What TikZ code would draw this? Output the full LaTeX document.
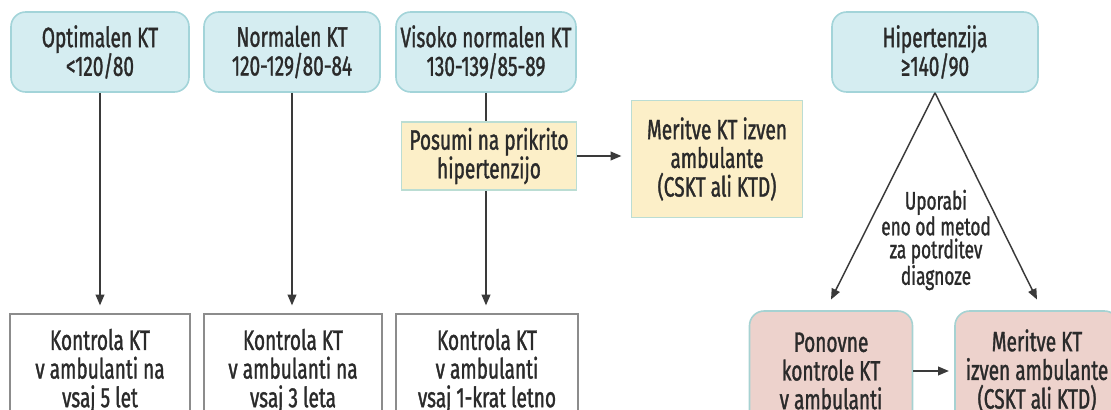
\documentclass[tikz,border=0pt]{standalone}
\usepackage{fontspec}
\setmainfont[FakeStretch=0.68, FakeBold=1.2]{Fira Sans}
\usetikzlibrary{arrows.meta}
\definecolor{inkc}{HTML}{2A2A2A}
\definecolor{linec}{HTML}{3A3A3A}
\definecolor{bluefill}{HTML}{D5EDF1}
\definecolor{blueedge}{HTML}{A3D4D9}
\definecolor{creamfill}{HTML}{FCEFC8}
\definecolor{creamedge}{HTML}{BBDDD3}
\definecolor{pinkfill}{HTML}{EDD2CC}
\definecolor{pinkedge}{HTML}{A6D2D2}
\definecolor{greyedge}{HTML}{8C8C8C}
\begin{document}
\begin{tikzpicture}[x=0.75pt, y=-0.75pt,
  font=\fontsize{21}{21.5}\selectfont, text=inkc,
  box/.style={align=center, inner sep=0pt, line width=1.2pt},
  sz/.style 2 args={minimum width=#1*0.75pt, minimum height=#2*0.75pt},
  category/.style={box, rounded corners=11pt, fill=bluefill, draw=blueedge},
  suspect/.style={box, fill=creamfill, draw=creamedge},
  confirm/.style={box, rounded corners=11pt, fill=pinkfill, draw=pinkedge},
  advice/.style={box, fill=white, draw=greyedge, line width=0.9pt},
  link/.style={draw=linec, line width=1.1pt},
  arr/.style={link, -{Triangle[length=8pt,width=6.5pt]}}]
\useasboundingbox (0,0) rectangle (1111,410);
\clip (0,0) rectangle (1111,410);

% blood-pressure categories
\node[category, sz={178}{80}] (opt) at (100,52) {Optimalen KT\\<120/80};
\node[category, sz={176}{80}] (nor) at (292,52) {Normalen KT\\120-129/80-84};
\node[category, sz={180}{80}] (vis) at (486,52) {Visoko normalen KT\\130-139/85-89};
\node[category, sz={206}{80}] (hyp) at (935,52) {Hipertenzija\\≥140/90};

% masked hypertension branch
\node[suspect, sz={175}{68}] (sus) at (489,156) {Posumi na prikrito\\hipertenzijo};
\node[suspect, sz={171}{117}] (out) at (717,159) {Meritve KT izven\\ambulante\\(CSKT ali KTD)};

% follow-up advice
\node[advice, sz={180}{114}] (c5) at (100,371) {Kontrola KT\\v ambulanti na\\vsaj 5 let};
\node[advice, sz={178}{114}] (c3) at (293,371) {Kontrola KT\\v ambulanti na\\vsaj 3 leta};
\node[advice, sz={182}{114}] (c1) at (487,371) {Kontrola KT\\v ambulanti\\vsaj 1-krat letno};

% confirming the diagnosis
\node[confirm, sz={163}{120}] (rep) at (831,371) {Ponovne\\kontrole KT\\v ambulanti};
\node[confirm, sz={164}{120}] (amb) at (1037,371) {Meritve KT\\izven ambulante\\(CSKT ali KTD)};
\node[font=\fontsize{19}{17.25}\selectfont, align=center] (use) at (936,240) {Uporabi\\eno od metod\\za potrditev\\diagnoze};

% connectors
\draw[arr, shorten >=6pt] (opt.south) -- (opt.south |- c5.north);
\draw[arr, shorten >=6pt] (nor.south) -- (nor.south |- c3.north);
\draw[link] (vis.south) -- (vis.south |- sus.north);
\draw[arr, shorten >=6pt] (vis.south |- sus.south) -- (vis.south |- c1.north);
\draw[arr, shorten >=7pt] (sus.east) -- (sus.east -| out.west);
\draw[arr] (hyp.south) -- ([yshift=8pt]rep.north);
\draw[arr] (hyp.south) -- ([yshift=8pt]amb.north);
\draw[arr, shorten >=4pt] (rep.east) -- (amb.west);
\end{tikzpicture}
\end{document}
